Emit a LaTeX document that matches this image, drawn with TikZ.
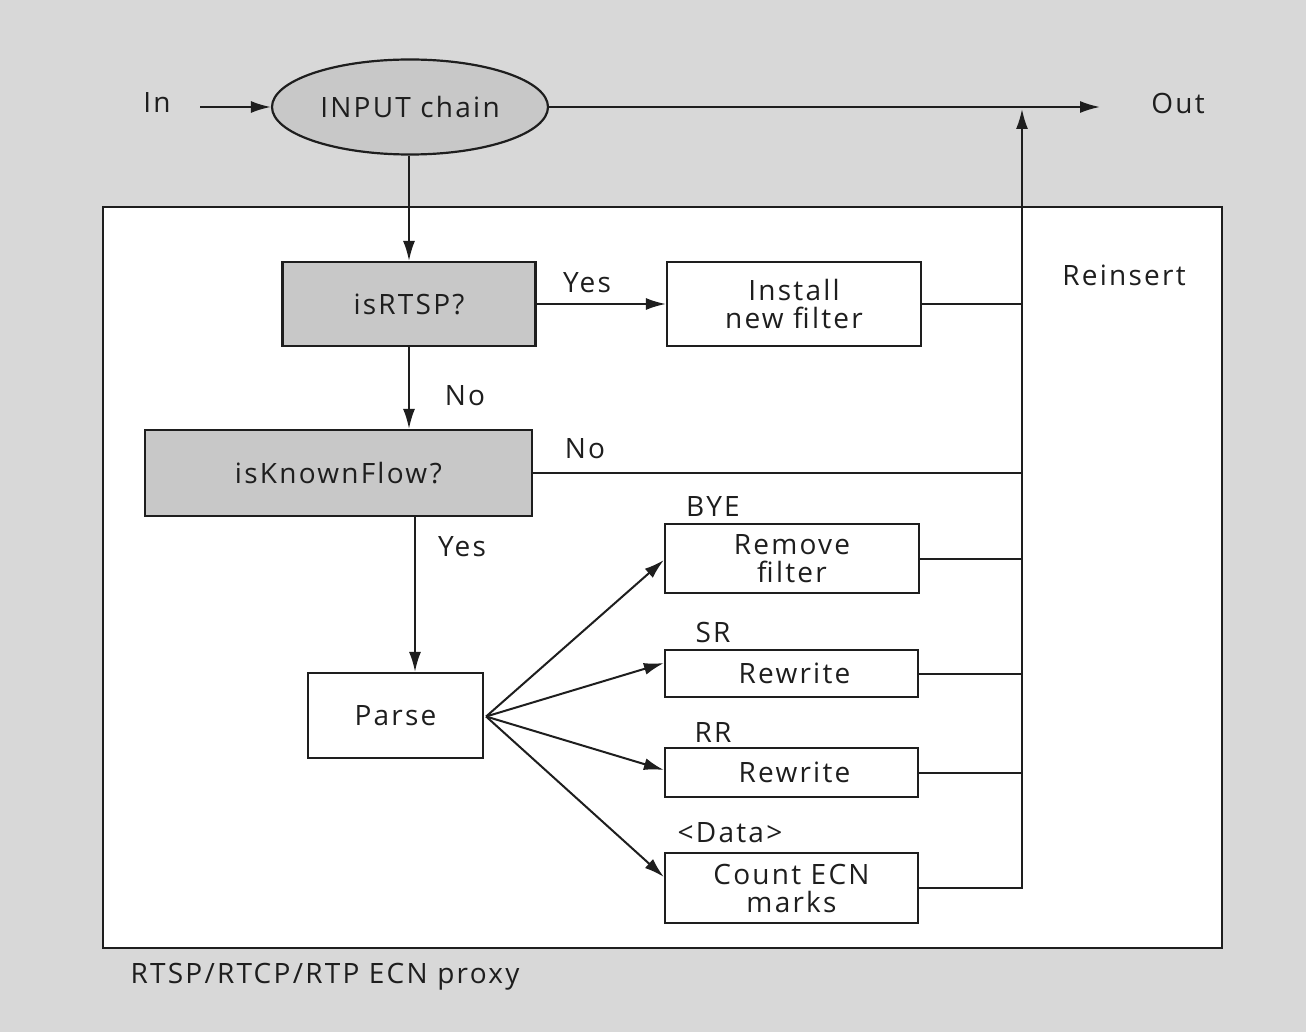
\documentclass[tikz,border=0pt]{standalone}
\usepackage{fontspec}
\setmainfont{Open Sans}[LetterSpace=8]
\usetikzlibrary{arrows.meta,shapes.geometric,calc}
\definecolor{bgc}{RGB}{216,216,216}
\definecolor{shade}{RGB}{200,200,200}
\definecolor{ink}{RGB}{30,30,30}
\begin{document}
\begin{tikzpicture}[x=1pt,y=-1pt,
  every node/.style={font=\fontsize{28}{28}\selectfont, text=ink},
  lbl/.style={inner sep=0pt},
  box/.style={draw=ink, line width=2.2pt, fill=white, align=center, inner sep=0pt},
  shbox/.style={box, fill=shade},
  ln/.style={draw=ink, line width=2pt},
  arr/.style={ln, -{Latex[length=20pt,width=12pt]}}]
% background
\fill[bgc] (0,0) rectangle (1306,1032);
\useasboundingbox (0,0) rectangle (1306,1032);
% proxy frame
\node[draw=ink, line width=2.5pt, fill=white, minimum width=1119pt, minimum height=741pt, inner sep=0pt] (frame) at (662.5,577.5) {};
% nodes
\node[draw=ink, line width=2.2pt, fill=shade, ellipse, minimum width=276pt, minimum height=95pt, inner sep=0pt] (ell) at (410,107) {INPUT chain};
\node[lbl] (in) at (157,103) {In};
\node[lbl] (out) at (1178,103) {Out};
\coordinate (inA) at (200,107);
\coordinate (outA) at (1100,107);
\coordinate (reins) at (1022,109);
\node[lbl] (reinsert) at (1124,275) {Reinsert};

\node[shbox, minimum width=253pt, minimum height=84pt] (isrtsp) at (409,304) {isRTSP?};
\node[box, minimum width=254pt, minimum height=84pt] (install) at (794,304) {Install\\new filter};
\node[shbox, minimum width=387pt, minimum height=86pt] (known) at (338.5,473) {isKnownFlow?};
\node[box, minimum width=175pt, minimum height=85pt] (parse) at (395.5,715.5) {Parse};
\node[box, minimum width=254pt, minimum height=69pt] (remove) at (792,558.5) {Remove\\filter};
\node[box, minimum width=253pt, minimum height=47pt] (sr) at (791.5,673.5) {\hspace*{6pt}Rewrite};
\node[box, minimum width=253pt, minimum height=49pt] (rr) at (791.5,772.5) {\hspace*{6pt}Rewrite};
\node[box, minimum width=253pt, minimum height=70pt] (count) at (791.5,888) {Count ECN\\marks};

\node[lbl] (bye) at (713,507) {BYE};
\node[lbl] (srl) at (713,632) {SR};
\node[lbl] (rrl) at (713,732) {RR};
\node[lbl] (datal) at (730,833) {<Data>};
\node[lbl] (yes1) at (587,283) {Yes};
\node[lbl] (no1) at (465,396) {No};
\node[lbl] (no2) at (585,449) {No};
\node[lbl] (yes2) at (462,547) {Yes};
\node[lbl] (cap) at (325,977) {RTSP/RTCP/RTP ECN proxy};

% connectors
\draw[arr] (inA) -- (ell.west);
\draw[arr] (ell.east) -- (outA);
\draw[arr] (ell.south -| isrtsp.north) -- (isrtsp.north);
\draw[arr] (isrtsp.east) -- (install.west);
\draw[arr] (isrtsp.south) -- (isrtsp.south |- known.north);
\coordinate (px) at (415,0);
\draw[arr] (known.south -| px) -- (parse.north -| px);
\draw[ln] (known.east) -- (known.east -| reins);
\draw[ln] (install.east) -- (install.east -| reins);
\draw[ln] (remove.east) -- (remove.east -| reins);
\draw[ln] (sr.east) -- (sr.east -| reins);
\draw[ln] (rr.east) -- (rr.east -| reins);
\draw[arr] (count.east) -| (reins);
\coordinate (fan) at ($(parse.east)+(2,1)$);
\draw[arr] (fan) -- ($(remove.west)+(0,1.5)$);
\draw[arr] (fan) -- ($(sr.west)+(0,-10.5)$);
\draw[arr] (fan) -- ($(rr.west)+(0,-2.5)$);
\draw[arr] (fan) -- ($(count.west)+(0,-11)$);
\end{tikzpicture}
\end{document}
